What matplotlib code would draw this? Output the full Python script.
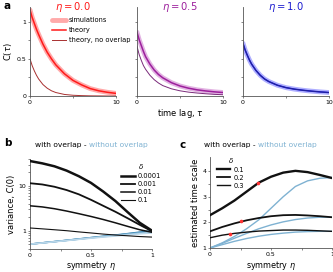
import numpy as np
import matplotlib
matplotlib.use('Agg')
import matplotlib.pyplot as plt
from matplotlib.ticker import NullFormatter, FixedLocator

# ---- data ----
tau = [0, 0.25, 0.5, 0.75, 1, 1.5, 2, 2.5, 3, 4, 5, 6, 7, 8, 9, 10]
etas_top = ['0.0', '0.5', '1.0']
theory = {
    '0.0': [1.16, 1.06, 0.98, 0.90, 0.83, 0.70, 0.59, 0.50, 0.42, 0.30, 0.21, 0.15, 0.10, 0.07, 0.05, 0.035],
    '0.5': [0.86, 0.76, 0.68, 0.60, 0.53, 0.43, 0.35, 0.29, 0.245, 0.18, 0.135, 0.105, 0.083, 0.068, 0.056, 0.047],
    '1.0': [0.71, 0.62, 0.55, 0.485, 0.43, 0.345, 0.28, 0.23, 0.195, 0.145, 0.113, 0.092, 0.077, 0.065, 0.055, 0.047],
}
simulations = theory
no_overlap = {
    '0.0': [0.50, 0.41, 0.34, 0.28, 0.23, 0.155, 0.105, 0.07, 0.047, 0.021, 0.01, 0.005, 0.002, 0.001, 0.0, 0.0],
    '0.5': [0.67, 0.56, 0.48, 0.41, 0.36, 0.28, 0.22, 0.175, 0.14, 0.097, 0.07, 0.052, 0.04, 0.03, 0.022, 0.017],
    '1.0': [0.71, 0.62, 0.55, 0.485, 0.43, 0.345, 0.28, 0.23, 0.195, 0.145, 0.113, 0.092, 0.077, 0.065, 0.055, 0.047],
}
col_theory = {'0.0': '#ff1a1a', '0.5': '#9c1f9c', '1.0': '#1c1cd0'}
col_sim = {'0.0': '#ffaaaa', '0.5': '#e2b2e2', '1.0': '#b0b0ff'}
col_noov = {'0.0': '#a83030', '0.5': '#7a2a7a', '1.0': '#22229a'}

eta = [0, 0.1, 0.2, 0.3, 0.4, 0.5, 0.6, 0.7, 0.8, 0.9, 1.0]
deltas_b = ['0.0001', '0.001', '0.01', '0.1']
var_with = {
    '0.0001': [36, 32, 27.5, 22, 16.5, 11.7, 7.5, 4.6, 2.6, 1.5, 1.0],
    '0.001': [11.5, 10.8, 9.6, 8.1, 6.5, 4.9, 3.6, 2.65, 1.9, 1.35, 0.97],
    '0.01': [3.6, 3.4, 3.1, 2.75, 2.4, 2.08, 1.78, 1.5, 1.25, 1.05, 0.92],
    '0.1': [1.15, 1.10, 1.05, 1.0, 0.94, 0.89, 0.84, 0.80, 0.77, 0.74, 0.72],
}
var_without = {
    '0.0001': [0.50, 0.535, 0.57, 0.61, 0.655, 0.70, 0.75, 0.80, 0.86, 0.93, 1.0],
    '0.001': [0.50, 0.535, 0.57, 0.61, 0.65, 0.70, 0.745, 0.79, 0.85, 0.91, 0.97],
    '0.01': [0.50, 0.535, 0.57, 0.605, 0.645, 0.69, 0.735, 0.78, 0.83, 0.88, 0.93],
    '0.1': [0.50, 0.53, 0.565, 0.60, 0.64, 0.68, 0.72, 0.76, 0.80, 0.85, 0.89],
}

deltas_c = ['0.1', '0.2', '0.3']
ts_with = {
    '0.1': [2.28, 2.55, 2.85, 3.2, 3.55, 3.78, 3.94, 4.01, 3.96, 3.85, 3.73],
    '0.2': [1.65, 1.82, 1.96, 2.08, 2.17, 2.24, 2.28, 2.29, 2.27, 2.24, 2.2],
    '0.3': [1.4, 1.5, 1.57, 1.62, 1.66, 1.68, 1.70, 1.70, 1.69, 1.67, 1.65],
}
ts_without = {
    '0.1': [1.0, 1.2, 1.45, 1.75, 2.1, 2.55, 3.0, 3.4, 3.62, 3.72, 3.75],
    '0.2': [1.0, 1.18, 1.38, 1.57, 1.75, 1.9, 2.02, 2.11, 2.17, 2.2, 2.2],
    '0.3': [1.0, 1.13, 1.26, 1.37, 1.46, 1.53, 1.58, 1.62, 1.64, 1.65, 1.65],
}
dot_eta = [0.39, 0.25, 0.165]
dot_ts = [3.55, 2.04, 1.54]

blue_light = '#7fb2d2'
blue_shades = ['#2878a8', '#5a9cc4', '#8dbcd8', '#bcd8ea']

W, H = 333, 272
fig = plt.figure(figsize=(W / 100, H / 100), dpi=100)


def box(x0, y0, x1, y1):
    # pixel box (top-left origin) -> figure fraction
    return [x0 / W, 1 - y1 / H, (x1 - x0) / W, (y1 - y0) / H]


def style(ax):
    for s in ['top', 'right']:
        ax.spines[s].set_visible(False)
    for s in ['left', 'bottom']:
        ax.spines[s].set_linewidth(0.6)
        ax.spines[s].set_color('#555555')
    ax.tick_params(which='both', labelsize=4.5, length=1.6, width=0.5, pad=1.0, color='#555555')
    ax.tick_params(which='minor', length=1.1)


# ---- top row ----
lefts = [30, 137, 243]
for i, e in enumerate(etas_top):
    ax = fig.add_axes(box(lefts[i], 7, lefts[i] + 86, 96))
    style(ax)
    ax.plot(tau, simulations[e], color=col_sim[e], lw=3.5, solid_capstyle='round', label='simulations')
    ax.plot(tau, theory[e], color=col_theory[e], lw=1.1, label='theory')
    ax.plot(tau, no_overlap[e], color=col_noov[e], lw=0.7, label='theory, no overlap')
    ax.set_xlim(0, 10)
    ax.set_ylim(0, 1.2)
    ax.xaxis.set_major_locator(FixedLocator([0, 10]))
    ax.xaxis.set_minor_locator(FixedLocator([5]))
    ax.yaxis.set_major_locator(FixedLocator([0, 0.5, 1]))
    ax.yaxis.set_minor_locator(FixedLocator([0.25, 0.75]))
    ax.set_yticklabels(['0', '0.5', '1'])
    ax.set_xticklabels(['0', '10'])
    ax.text(0.5, 1.0, r'$\eta = %s$' % e, color=col_theory[e], fontsize=7.2,
            ha='center', va='center', transform=ax.transAxes)
    if i == 0:
        ax.set_ylabel(r'C($\tau$)', fontsize=6, labelpad=2)
        ax.legend(loc='upper left', bbox_to_anchor=(0.22, 0.92), fontsize=4.8, frameon=False,
                  handlelength=2.0, handletextpad=0.5, labelspacing=0.6, borderpad=0)
    else:
        ax.set_yticklabels([])
    if i == 1:
        ax.set_xlabel(r'time lag, $\tau$', fontsize=6, labelpad=2)

# ---- panel b ----
axb = fig.add_axes(box(30, 159, 152, 249))
style(axb)
lw_b = [1.8, 1.3, 1.1, 0.8]
for k, d in enumerate(deltas_b):
    axb.plot(eta, var_without[d], color=blue_shades[k], lw=1.1, zorder=2)
for k, d in enumerate(deltas_b):
    axb.plot(eta, var_with[d], color='#111111', lw=lw_b[k], label=d, zorder=3)
axb.set_yscale('log')
axb.set_xlim(0, 1)
axb.set_ylim(0.39, 40)
axb.yaxis.set_major_locator(FixedLocator([1, 10]))
axb.set_yticklabels(['1', '10'])
axb.yaxis.set_minor_formatter(NullFormatter())
axb.xaxis.set_major_locator(FixedLocator([0, 0.5, 1]))
axb.set_xticklabels(['0', '0.5', '1'])
axb.xaxis.set_minor_locator(FixedLocator([0.25, 0.75]))
axb.set_xlabel(r'symmetry $\eta$', fontsize=5.8, labelpad=1.0)
axb.set_ylabel('variance, C(0)', fontsize=6, labelpad=2)
axb.legend(loc='upper left', bbox_to_anchor=(0.72, 1.0), fontsize=4.8, frameon=False,
           title=r'$\delta$', title_fontsize=5, handlelength=2.0, handletextpad=0.5,
           labelspacing=0.3, borderpad=0)

# ---- panel c ----
axc = fig.add_axes(box(210, 157, 332, 248))
style(axc)
lw_c = [1.7, 1.3, 1.0]
for d in deltas_c:
    axc.plot(eta, ts_without[d], color=blue_light, lw=1.0, zorder=2)
for k, d in enumerate(deltas_c):
    axc.plot(eta, ts_with[d], color='#111111', lw=lw_c[k], label=d, zorder=3)
axc.plot(dot_eta, dot_ts, 'o', color='#ff3333', ms=2.6, mec='none', zorder=4)
axc.set_xlim(0, 1)
axc.set_ylim(1, 4.55)
axc.yaxis.set_major_locator(FixedLocator([1, 2, 3, 4]))
axc.yaxis.set_minor_locator(FixedLocator([1.5, 2.5, 3.5]))
axc.xaxis.set_major_locator(FixedLocator([0, 0.5, 1]))
axc.set_xticklabels(['0', '0.5', '1'])
axc.xaxis.set_minor_locator(FixedLocator([0.25, 0.75]))
axc.set_xlabel(r'symmetry $\eta$', fontsize=5.8, labelpad=1.5)
axc.set_ylabel('estimated time scale', fontsize=6, labelpad=2)
axc.legend(loc='upper left', bbox_to_anchor=(0.03, 1.05), fontsize=4.8, frameon=False,
           title=r'$\delta$', title_fontsize=5, handlelength=2.0, handletextpad=0.5,
           labelspacing=0.3, borderpad=0)

# ---- two-coloured titles ----
for x0 in [35, 204]:
    t1 = fig.text(x0 / W, 1 - 145 / H, 'with overlap - ', fontsize=5.4, va='center', ha='left')
    plt.annotate('without overlap', xy=(1, 0), xycoords=t1, fontsize=5.4, color=blue_light,
                 va='bottom', ha='left', annotation_clip=False)

# ---- panel letters ----
fig.text(3 / W, 1 - 6 / H, 'a', fontsize=7.5, fontweight='bold', va='center')
fig.text(4 / W, 1 - 143 / H, 'b', fontsize=7.5, fontweight='bold', va='center')
fig.text(180 / W, 1 - 145 / H, 'c', fontsize=7.5, fontweight='bold', va='center')

fig.savefig('out.png', dpi=100)
